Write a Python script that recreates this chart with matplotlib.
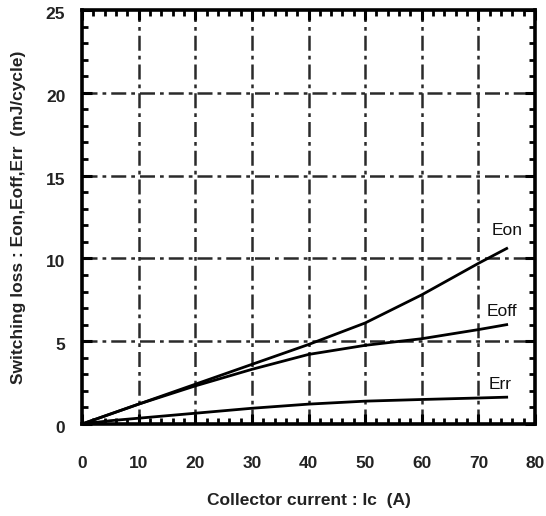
import matplotlib
matplotlib.use("Agg")
import matplotlib.pyplot as plt
import numpy as np
from matplotlib.ticker import MultipleLocator
from matplotlib.transforms import ScaledTranslation

plt.rcParams['font.family'] = ['Liberation Sans', 'DejaVu Sans']

# Collector current (A)
ic = [0, 5, 10, 20, 30, 40, 50, 60, 70, 75]
# Switching energies (mJ/cycle)
eon = [0, 0.6, 1.2, 2.4, 3.6, 4.8, 6.1, 7.8, 9.7, 10.6]
eoff = [0, 0.6, 1.2, 2.3, 3.3, 4.2, 4.75, 5.15, 5.7, 6.0]
err = [0, 0.2, 0.35, 0.65, 0.95, 1.2, 1.38, 1.48, 1.57, 1.62]

x_ticks = [0, 10, 20, 30, 40, 50, 60, 70, 80]
y_ticks = [0, 5, 10, 15, 20, 25]

fig = plt.figure(figsize=(5.46, 5.16), dpi=100)
ax = fig.add_axes([82 / 546, 1 - 424 / 516, (535 - 82) / 546, (424 - 10) / 516])

grid_style = dict(color='#2a2a2a', linewidth=1.8, linestyle=(0, (6, 2, 1.5, 2)))
for xv in x_ticks[1:-1]:
    ax.axvline(xv, **grid_style, zorder=1)
for yv in y_ticks[1:-1]:
    ax.axhline(yv, **grid_style, zorder=1)

for series in (eon, eoff, err):
    ax.plot(ic, series, color='black', linewidth=2.0, zorder=3)

label_kw = dict(fontsize=12.5, ha='left', va='center', color='#111111')
ax.text(72.3, 11.7, 'Eon', **label_kw)
ax.text(71.4, 6.8, 'Eoff', **label_kw)
ax.text(71.8, 2.4, 'Err', **label_kw)

ax.set_xlim(0, 80)
ax.set_ylim(0, 25)
ax.set_xticks(x_ticks)
ax.set_yticks(y_ticks)
ax.xaxis.set_minor_locator(MultipleLocator(2))
ax.yaxis.set_minor_locator(MultipleLocator(1))
ax.tick_params(which='both', direction='in', top=True, right=True, color='black')
ax.tick_params(which='major', length=7, width=2.2, labelsize=12.5)
ax.tick_params(which='minor', length=4, width=2.0)
ax.tick_params(axis='x', which='major', pad=23)
ax.tick_params(axis='y', which='major', pad=12)
# nudge the y tick labels slightly below their ticks
shift = ScaledTranslation(0, -3 / 100, fig.dpi_scale_trans)
for lab in ax.get_xticklabels() + ax.get_yticklabels():
    lab.set_fontweight('bold')
    lab.set_color('#222222')
for lab in ax.get_yticklabels():
    lab.set_transform(lab.get_transform() + shift)
for sp in ax.spines.values():
    sp.set_linewidth(2.6)

ax.set_xlabel('Collector current : Ic  (A)', fontsize=12.5, fontweight='bold',
              color='#222222', labelpad=16)
ax.set_ylabel('Switching loss : Eon,Eoff,Err  (mJ/cycle)', fontsize=12.5,
              fontweight='bold', color='#222222', labelpad=14)

fig.savefig('out.png', dpi=100)
